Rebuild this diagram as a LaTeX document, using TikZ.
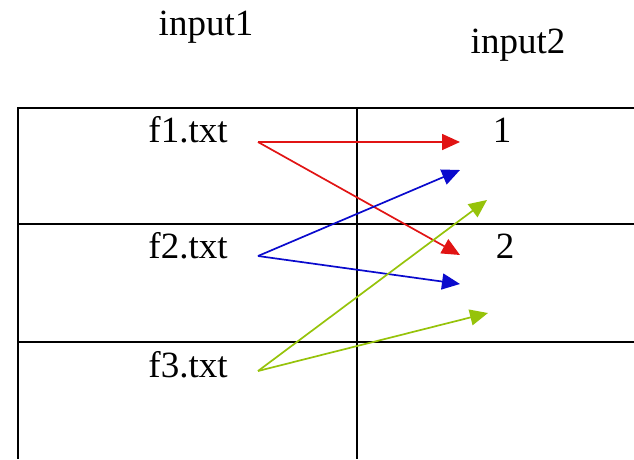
\documentclass[tikz,border=0pt]{standalone}
\usepackage{fontspec}
\setmainfont{Liberation Serif}
\usepackage{xcolor}
\usetikzlibrary{arrows.meta}

\definecolor{mapred}{RGB}{225,20,20}
\definecolor{mapblue}{RGB}{10,10,205}
\definecolor{mapgreen}{RGB}{150,195,10}

\begin{document}
\begin{tikzpicture}[x=1pt, y=-1pt, line width=1.9pt, >={Triangle[length=18pt, width=16pt]},
  lbl/.style={anchor=base, inner sep=0pt, font=\fontsize{37}{40}\selectfont},
  link/.style={->, line width=1.7pt}]
  \useasboundingbox (0,0) rectangle (634,459);
  % table
  \draw (634,108) -- (18,108) -- (18,459);
  \draw (357,108) -- (357,459);
  \draw (18,224) -- (634,224);
  \draw (18,342) -- (634,342);
  % column heads
  \node[lbl] (in1) at (206,35) {input1};
  \node[lbl] (in2) at (518,53) {input2};
  % files and keys
  \node[lbl] (f1) at (188,142) {f1.txt};
  \node[lbl] (f2) at (188,258) {f2.txt};
  \node[lbl] (f3) at (188,377) {f3.txt};
  \node[lbl] (k1) at (502,142) {1};
  \node[lbl] (k2) at (505,258) {2};
  % arrow ends
  \coordinate (s1) at (258,142);
  \coordinate (s2) at (258,256);
  \coordinate (s3) at (258,371);
  \coordinate (r1) at (460,142);
  \coordinate (r2) at (460,255);
  \coordinate (b1) at (460,170);
  \coordinate (b2) at (460,284);
  \coordinate (g1) at (487,200);
  \coordinate (g2) at (488,313);
  \draw[link, mapred] (s1) -- (r1);
  \draw[link, mapred] (s1) -- (r2);
  \draw[link, mapblue] (s2) -- (b1);
  \draw[link, mapblue] (s2) -- (b2);
  \draw[link, mapgreen] (s3) -- (g1);
  \draw[link, mapgreen] (s3) -- (g2);
\end{tikzpicture}
\end{document}
